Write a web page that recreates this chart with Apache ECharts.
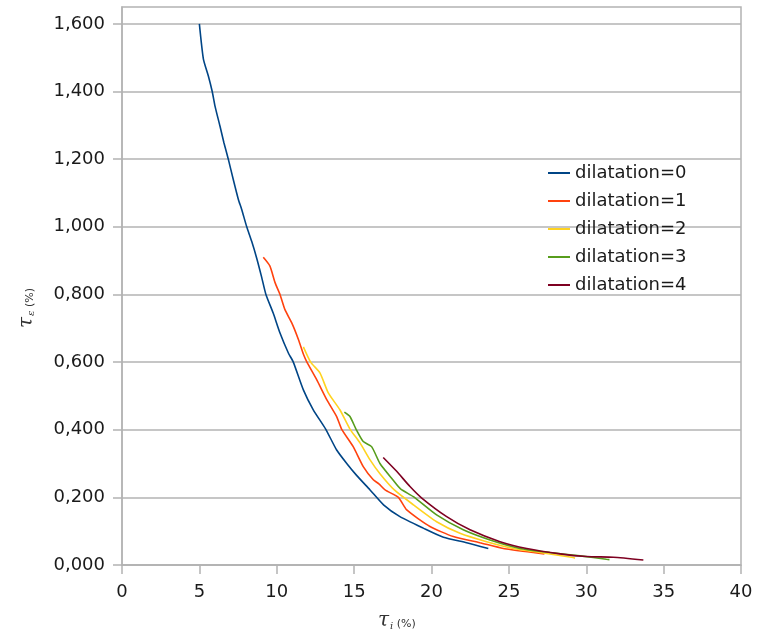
<!DOCTYPE html>
<html><head><meta charset="utf-8">
<script src="https://cdn.jsdelivr.net/npm/echarts@6/dist/echarts.min.js"></script>
<style>html,body{margin:0;padding:0;background:#fff}#c{width:757px;height:641px}</style>
</head><body><div id="c"></div>
<script>
const seriesNames = ['dilatation=0','dilatation=1','dilatation=2','dilatation=3','dilatation=4'];
const colors = ['#004586','#ff420e','#ffd320','#579d1c','#7e0021'];
const yTicks = [0,0.2,0.4,0.6,0.8,1.0,1.2,1.4,1.6];

const x0 = [5.0,5.26,5.58,5.83,6.01,6.33,6.59,6.87,7.19,7.52,7.73,8.06,8.38,8.7,9.02,9.3,9.77,10.21,10.75,11.07,11.72,12.36,13.16,13.87,14.51,15.16,16.03,16.9,17.96,19.47,20.77,22.27,23.67];
const y0 = [1.6,1.496,1.446,1.4,1.357,1.298,1.248,1.2,1.14,1.081,1.052,1.0,0.957,0.908,0.852,0.8,0.745,0.686,0.627,0.6,0.518,0.459,0.402,0.34,0.301,0.265,0.222,0.178,0.143,0.109,0.082,0.066,0.049];

const x1 = [9.13,9.56,9.89,10.21,10.53,10.97,11.4,11.75,11.95,12.58,13.23,13.87,14.19,14.94,15.59,16.24,16.6,17.0,17.86,18.4,19.9,21.41,23.13,24.64,26.58,27.3];
const y1 = [0.910,0.884,0.835,0.8,0.755,0.716,0.667,0.62,0.6,0.548,0.489,0.439,0.402,0.35,0.291,0.252,0.24,0.222,0.2,0.163,0.114,0.084,0.066,0.049,0.037,0.033];

const x2 = [11.72,12.19,12.79,13.33,14.08,14.73,15.38,16.03,16.67,17.6,18.83,20.33,21.84,23.56,25.29,27.0,29.16,29.27];
const y2 = [0.645,0.6,0.568,0.509,0.459,0.402,0.361,0.311,0.27,0.222,0.178,0.128,0.094,0.069,0.049,0.037,0.022,0.02];

const x3 = [14.37,14.73,15.12,15.59,16.13,16.67,17.5,18.0,18.83,20.33,22.05,23.78,25.72,27.66,29.6,31.3,31.5];
const y3 = [0.452,0.439,0.402,0.365,0.35,0.3,0.252,0.225,0.202,0.148,0.104,0.074,0.049,0.037,0.027,0.017,0.016];

const x4 = [16.88,17.75,18.61,19.37,20.98,22.49,24.43,26.15,28.31,30.03,31.75,33.69];
const y4 = [0.318,0.277,0.232,0.198,0.143,0.104,0.069,0.049,0.033,0.025,0.023,0.015];

const xs = [x0,x1,x2,x3,x4], ys = [y0,y1,y2,y3,y4];
const zip = (a,b) => a.map((v,i)=>[v,b[i]]);

const chart = echarts.init(document.getElementById('c'));
const gridColor = '#b3b3b3';
const font = 'DejaVu Sans';
chart.setOption({
  animation: false,
  backgroundColor: '#fff',
  grid: {left:122, right:16, top:7, bottom:76, show:true, borderColor:gridColor, borderWidth:1.5, backgroundColor:'transparent'},
  xAxis: {
    type:'value', min:0, max:40, interval:5,
    axisLine:{show:true, lineStyle:{color:gridColor, width:1.5}},
    axisTick:{show:true, length:9, lineStyle:{color:gridColor, width:1.5}},
    axisLabel:{margin:18, fontFamily:font, fontSize:18, color:'#1a1a1a'},
    splitLine:{show:false}
  },
  yAxis: {
    type:'value', min:0, max:1.65,
    axisLine:{show:true, lineStyle:{color:gridColor, width:1.5}},
    axisTick:{show:true, length:9, customValues:yTicks, lineStyle:{color:gridColor, width:1.5}},
    axisLabel:{margin:17, fontFamily:font, fontSize:18, color:'#1a1a1a', customValues:yTicks,
      formatter: v => v.toFixed(3).replace('.', ',')},
    splitLine:{show:true, lineStyle:{color:gridColor, width:1.5}}
  },
  legend: {
    left:543, top:159, orient:'vertical', itemGap:10, itemWidth:22, itemHeight:2,
    icon:'rect',
    textStyle:{fontFamily:font, fontSize:18, color:'#1a1a1a', lineHeight:18},
    data: seriesNames
  },
  series: seriesNames.map((n,i)=>({
    name:n, type:'line', data: zip(xs[i], ys[i]), showSymbol:false, symbol:'none', smooth:0.2,
    lineStyle:{color:colors[i], width:1.6}, itemStyle:{color:colors[i]}, z: 2+i
  })),
  graphic: [
    {type:'text', left:378, top:611, style:{
      text:'{t|τ}{s|i}{p| (%)}',
      rich:{t:{fontFamily:'DejaVu Serif', fontStyle:'italic', fontSize:20, fill:'#333'},
            s:{fontFamily:'DejaVu Serif', fontStyle:'italic', fontSize:10, fill:'#333', verticalAlign:'bottom', padding:[8,0,0,1]},
            p:{fontFamily:font, fontSize:11, fill:'#333', padding:[6,0,0,0]}}
    }},
    {type:'text', x:27, y:308, rotation:Math.PI/2, style:{
      text:'{t|τ}{s|ε}{p| (%)}', align:'center', verticalAlign:'middle',
      rich:{t:{fontFamily:'DejaVu Serif', fontStyle:'italic', fontSize:20, fill:'#333'},
            s:{fontFamily:'DejaVu Serif', fontStyle:'italic', fontSize:10, fill:'#333', padding:[8,0,0,1]},
            p:{fontFamily:font, fontSize:11, fill:'#333', padding:[6,0,0,0]}}
    }}
  ]
});
</script></body></html>
